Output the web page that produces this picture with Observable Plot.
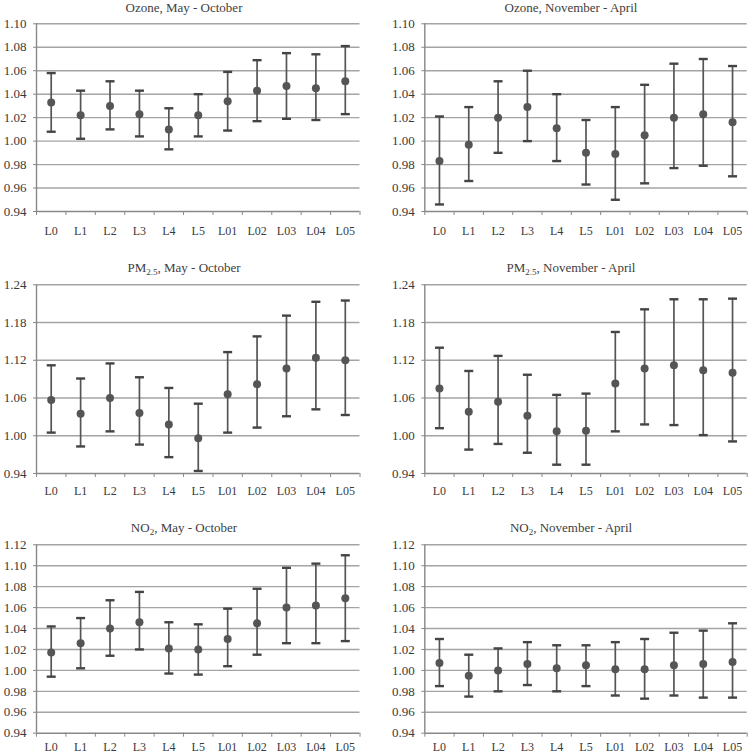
<!DOCTYPE html>
<html>
<head>
<meta charset="utf-8">
<script src="https://cdn.jsdelivr.net/npm/d3@7"></script>
<script src="https://cdn.jsdelivr.net/npm/@observablehq/plot@0.6"></script>
<style>
  html, body { margin: 0; padding: 0; background: #fff; }
  #chart { position: relative; width: 749px; height: 755px; overflow: hidden; background: #fff; }
  .panel { position: absolute; }
  .panel svg text { font-family: "Liberation Serif", serif; }
  .title { position: absolute; white-space: nowrap; font-family: "Liberation Serif", serif; font-size: 13px; line-height: 13px; color: #404040; transform: translateX(-50%); }
  .title sub { font-size: 9px; vertical-align: -3px; line-height: 0; }
</style>
</head>
<body>
<div id="chart"></div>
<script>
const lags = ["L0","L1","L2","L3","L4","L5","L01","L02","L03","L04","L05"];

const ozoneTicks = [0.94, 0.96, 0.98, 1.00, 1.02, 1.04, 1.06, 1.08, 1.10];
const pmTicks    = [0.94, 1.00, 1.06, 1.12, 1.18, 1.24];
const no2Ticks   = [0.94, 0.96, 0.98, 1.00, 1.02, 1.04, 1.06, 1.08, 1.10, 1.12];

const ozoneSummerEst = [1.033, 1.022, 1.030, 1.023, 1.010, 1.022, 1.034, 1.043, 1.047, 1.045, 1.051];
const ozoneSummerLo  = [1.008, 1.002, 1.010, 1.004, 0.993, 1.004, 1.009, 1.017, 1.019, 1.018, 1.023];
const ozoneSummerHi  = [1.058, 1.043, 1.051, 1.043, 1.028, 1.040, 1.059, 1.069, 1.075, 1.074, 1.081];

const ozoneWinterEst = [0.983, 0.997, 1.020, 1.029, 1.011, 0.990, 0.989, 1.005, 1.020, 1.023, 1.016];
const ozoneWinterLo  = [0.946, 0.966, 0.990, 1.000, 0.983, 0.963, 0.950, 0.964, 0.977, 0.979, 0.970];
const ozoneWinterHi  = [1.021, 1.029, 1.051, 1.060, 1.040, 1.018, 1.029, 1.048, 1.066, 1.070, 1.064];

const pmSummerEst = [1.057, 1.035, 1.060, 1.036, 1.018, 0.996, 1.066, 1.082, 1.107, 1.124, 1.120];
const pmSummerLo  = [1.005, 0.983, 1.007, 0.986, 0.966, 0.944, 1.005, 1.013, 1.031, 1.042, 1.033];
const pmSummerHi  = [1.112, 1.091, 1.115, 1.093, 1.076, 1.051, 1.133, 1.158, 1.191, 1.213, 1.215];

const pmWinterEst = [1.075, 1.038, 1.054, 1.032, 1.007, 1.008, 1.083, 1.107, 1.112, 1.104, 1.100];
const pmWinterLo  = [1.012, 0.978, 0.987, 0.973, 0.954, 0.954, 1.007, 1.018, 1.017, 1.001, 0.991];
const pmWinterHi  = [1.140, 1.103, 1.127, 1.097, 1.065, 1.067, 1.165, 1.201, 1.217, 1.217, 1.218];

const no2SummerEst = [1.017, 1.026, 1.040, 1.046, 1.021, 1.020, 1.030, 1.045, 1.060, 1.062, 1.069];
const no2SummerLo  = [0.994, 1.002, 1.014, 1.020, 0.997, 0.996, 1.004, 1.015, 1.026, 1.026, 1.028];
const no2SummerHi  = [1.042, 1.050, 1.067, 1.075, 1.046, 1.044, 1.059, 1.078, 1.098, 1.102, 1.110];

const no2WinterEst = [1.007, 0.995, 1.000, 1.006, 1.002, 1.005, 1.001, 1.001, 1.005, 1.006, 1.008];
const no2WinterLo  = [0.985, 0.975, 0.980, 0.986, 0.980, 0.985, 0.976, 0.973, 0.976, 0.974, 0.974];
const no2WinterHi  = [1.030, 1.015, 1.021, 1.027, 1.024, 1.024, 1.027, 1.030, 1.036, 1.038, 1.045];

const panels = [
  {title: "Ozone, May - October", est: ozoneSummerEst, lo: ozoneSummerLo, hi: ozoneSummerHi, ticks: ozoneTicks, row: 0, col: 0},
  {title: "Ozone, November - April", est: ozoneWinterEst, lo: ozoneWinterLo, hi: ozoneWinterHi, ticks: ozoneTicks, row: 0, col: 1},
  {title: "PM<sub>2.5</sub>, May - October", est: pmSummerEst, lo: pmSummerLo, hi: pmSummerHi, ticks: pmTicks, row: 1, col: 0},
  {title: "PM<sub>2.5</sub>, November - April", est: pmWinterEst, lo: pmWinterLo, hi: pmWinterHi, ticks: pmTicks, row: 1, col: 1},
  {title: "NO<sub>2</sub>, May - October", est: no2SummerEst, lo: no2SummerLo, hi: no2SummerHi, ticks: no2Ticks, row: 2, col: 0},
  {title: "NO<sub>2</sub>, November - April", est: no2WinterEst, lo: no2WinterLo, hi: no2WinterHi, ticks: no2Ticks, row: 2, col: 1}
];

const rows = [
  {top: 0,   height: 250, mt: 23.3, mb: 39,   tp: 14.5, titleY: 7.5},
  {top: 250, height: 250, mt: 34.3, mb: 27,   tp: 13.2, titleY: 267.5},
  {top: 500, height: 255, mt: 44.3, mb: 22.3, tp: 9.5,  titleY: 528.3}
];
const cols = [
  {left: 0,   width: 375, ml: 36,   mr: 15.5, titleX: 184},
  {left: 375, width: 374, ml: 49.3, mr: 2.3,  titleX: 571}
];

const fontFamily = "Liberation Serif";
const textColor = "#3a3a3a";
const gridColor = "#a4a4a4";
const axisColor = "#888888";
const markColor = "#555555";

const capSymbol = {
  draw(ctx, size) {
    const r = Math.sqrt(size / Math.PI);
    ctx.moveTo(-r, 0);
    ctx.lineTo(r, 0);
  }
};

const chart = document.getElementById("chart");

for (const p of panels) {
  const R = rows[p.row], C = cols[p.col];
  const data = lags.map((lag, i) => ({i, lag, est: p.est[i], lo: p.lo[i], hi: p.hi[i]}));
  const yMin = p.ticks[0], yMax = p.ticks[p.ticks.length - 1];
  const svg = Plot.plot({
    width: C.width,
    height: R.height,
    marginLeft: C.ml,
    marginRight: C.mr,
    marginTop: R.mt,
    marginBottom: R.mb,
    style: {fontFamily, fontSize: "13px", color: textColor, background: "transparent", overflow: "visible"},
    x: {domain: [-0.5, lags.length - 0.5], label: null},
    y: {domain: [yMin, yMax], label: null},
    marks: [
      Plot.gridY(p.ticks.slice(1), {stroke: gridColor, strokeOpacity: 1, strokeWidth: 1.4}),
      Plot.axisY(p.ticks, {tickSize: 3, tickPadding: 7, tickFormat: d => d.toFixed(2), stroke: axisColor, fill: textColor, fontSize: 13, fontFamily, label: null}),
      Plot.axisX(d3.range(lags.length), {tickSize: 0, tickPadding: R.tp, tickFormat: i => lags[i], fill: textColor, fontSize: 12, fontFamily, label: null}),
      Plot.axisX(d3.range(lags.length + 1).map(k => k - 0.5), {tickSize: 4, tickFormat: () => "", stroke: axisColor, label: null}),
      Plot.ruleX([-0.5], {stroke: axisColor, strokeWidth: 1.4}),
      Plot.ruleY([yMin], {stroke: axisColor, strokeWidth: 1.4}),
      Plot.ruleX(data, {x: "i", y1: "lo", y2: "hi", stroke: markColor, strokeWidth: 1.7}),
      Plot.dot(data, {x: "i", y: "hi", symbol: capSymbol, r: 4.5, stroke: "#444", strokeWidth: 2.4, fill: "none"}),
      Plot.dot(data, {x: "i", y: "lo", symbol: capSymbol, r: 4.5, stroke: "#444", strokeWidth: 2.4, fill: "none"}),
      Plot.dot(data, {x: "i", y: "est", r: 4, fill: markColor, stroke: "none"})
    ]
  });
  const div = document.createElement("div");
  div.className = "panel";
  div.style.left = C.left + "px";
  div.style.top = R.top + "px";
  div.appendChild(svg);
  chart.appendChild(div);

  const t = document.createElement("div");
  t.className = "title";
  t.innerHTML = p.title;
  t.style.left = C.titleX + "px";
  t.style.top = (R.titleY - 7) + "px";
  chart.appendChild(t);
}
</script>
</body>
</html>
